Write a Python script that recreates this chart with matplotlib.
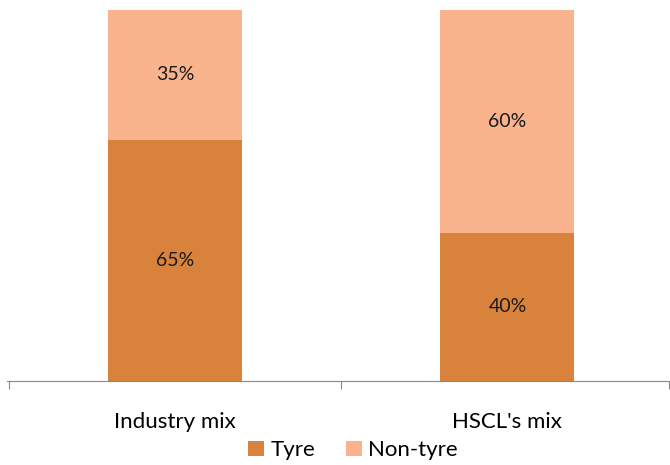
import matplotlib.pyplot as plt

categories = ['Industry mix', "HSCL's mix"]
tyre = [65, 40]
non_tyre = [35, 60]
series_names = ['Tyre', 'Non-tyre']

plt.rcParams['font.family'] = ['Lato', 'DejaVu Sans']

fig = plt.figure(figsize=(6.7, 4.65), dpi=100)
ax = fig.add_axes([7 / 670, 1 - 381 / 465, 662 / 670, 371 / 465])

x = list(range(len(categories)))
width = 0.403
ax.bar(x, tyre, width, color='#D9823B', label=series_names[0])
ax.bar(x, non_tyre, width, bottom=tyre, color='#F9B48E', label=series_names[1])

for i in x:
    ax.text(i, tyre[i] / 2, f'{tyre[i]}%', ha='center', va='center', fontsize=14, color='#1a1a1a')
    ax.text(i, tyre[i] + non_tyre[i] / 2, f'{non_tyre[i]}%', ha='center', va='center', fontsize=14, color='#1a1a1a')

ax.set_xlim(-0.505, 1.486)
ax.set_ylim(0, 100)
ax.set_yticks([])
for s in ['top', 'right', 'left']:
    ax.spines[s].set_visible(False)
ax.spines['bottom'].set_color('#888888')

ax.set_xticks([-0.5, 0.5, 1.486])
ax.set_xticklabels([])
ax.tick_params(axis='x', length=6, color='#888888')
ax.set_xticks(x, minor=True)
ax.set_xticklabels(categories, minor=True, fontsize=16)
ax.tick_params(axis='x', which='minor', length=0, pad=22)

fig.legend(loc='center', bbox_to_anchor=(0.527, 0.032), ncol=2, frameon=False,
           fontsize=16, handlelength=0.7, handleheight=0.7, handletextpad=0.3,
           columnspacing=1.4, borderpad=0)

fig.savefig('out.png', dpi=100)
